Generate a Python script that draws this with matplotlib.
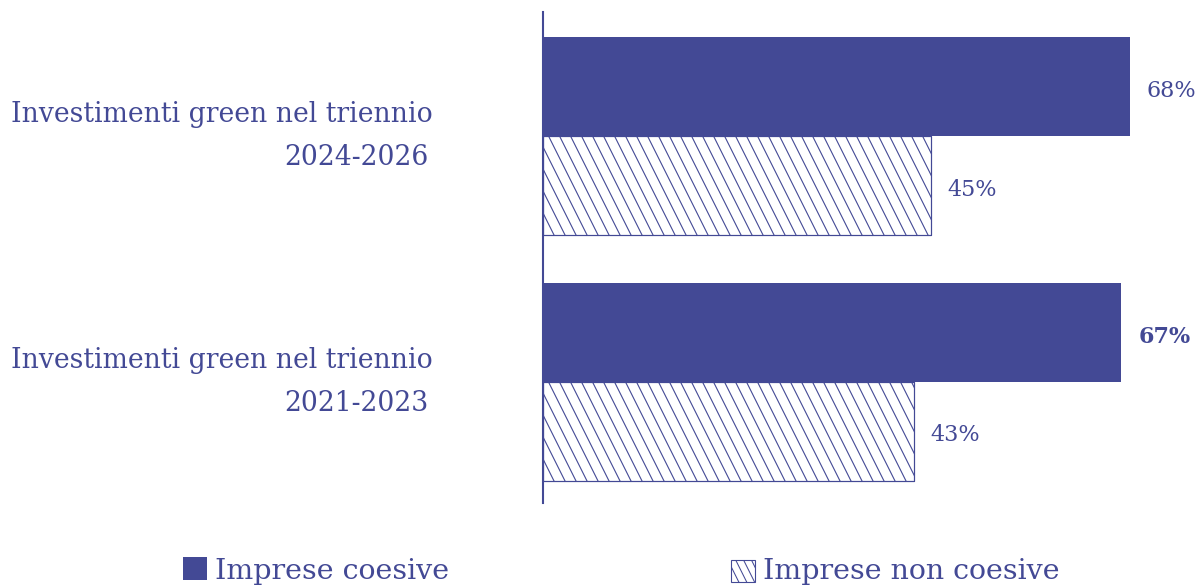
import matplotlib
matplotlib.use("Agg")
import matplotlib.pyplot as plt
from matplotlib.patches import Rectangle, Patch
from matplotlib.lines import Line2D
from matplotlib.legend_handler import HandlerBase

# ---- data -------------------------------------------------------------
categories = ["Investimenti green nel triennio\n2024-2026",
              "Investimenti green nel triennio\n2021-2023"]
coesive = [68, 67]          # Imprese coesive (%)
non_coesive = [45, 43]      # Imprese non coesive (%)
bold_labels = [False, True]  # emphasised value for the coesive series
series_names = ["Imprese coesive", "Imprese non coesive"]

# ---- style ------------------------------------------------------------
MAIN = "#434995"
FONT = "DejaVu Serif"
plt.rcParams["font.family"] = [FONT, "DejaVu Sans"]

W, H = 1199, 587
fig = plt.figure(figsize=(W / 100, H / 100), dpi=100)
ax = fig.add_axes([543 / W, 84 / H, 656 / W, 491 / H])

bar_h = 0.4024
group_y = [1, 0]  # first category on top

ax.set_xlim(0, 76)
ax.set_ylim(-0.492, 1.504)

solid_bars = ax.barh([g + bar_h / 2 for g in group_y], coesive, height=bar_h,
                     color=MAIN, edgecolor="none")
hatch_bars = ax.barh([g - bar_h / 2 for g in group_y], non_coesive, height=bar_h,
                     facecolor="white", edgecolor=MAIN, linewidth=0.8)

# pixel scale of the data coordinates (used for the steep diagonal hatch)
p0 = ax.transData.transform((0, 0))
p1 = ax.transData.transform((1, 1))
px_x = p1[0] - p0[0]
px_y = p1[1] - p0[1]

HATCH_STEP_PX = 11.0   # horizontal spacing of hatch strokes
HATCH_SLOPE = 2.0      # vertical drop per horizontal pixel

for rect in hatch_bars:
    x0, y0 = rect.get_x(), rect.get_y()
    w, h = rect.get_width(), rect.get_height()
    run = (h * px_y / HATCH_SLOPE) / px_x
    step = HATCH_STEP_PX / px_x
    x = -run
    while x < w + step:
        ln = Line2D([x0 + x, x0 + x + run], [y0 + h, y0], color=MAIN,
                    linewidth=0.8, zorder=rect.get_zorder() + 0.1)
        ax.add_line(ln)
        ln.set_clip_path(rect)
        x += step
    # outline on top of the strokes
    ax.add_patch(Rectangle((x0, y0), w, h, facecolor="none", edgecolor=MAIN,
                           linewidth=0.8, zorder=rect.get_zorder() + 0.2))

# ---- value labels -----------------------------------------------------
for rect, v, b in zip(solid_bars, coesive, bold_labels):
    ax.annotate(f"{v}%", (rect.get_width(), rect.get_y() + rect.get_height() / 2),
                xytext=(12.2, -2.9), textcoords="offset points",
                ha="left", va="center", fontsize=16, color=MAIN,
                fontweight="bold" if b else "normal", annotation_clip=False)
for rect, v in zip(hatch_bars, non_coesive):
    ax.annotate(f"{v}%", (rect.get_width(), rect.get_y() + rect.get_height() / 2),
                xytext=(11.5, -2.9), textcoords="offset points",
                ha="left", va="center", fontsize=16, color=MAIN,
                annotation_clip=False)

# ---- category labels --------------------------------------------------
line_off = 21.5 / px_y
for g, cat in zip(group_y, categories):
    first, second = cat.split("\n")
    ax.text(-(543 - 433) / px_x, g + line_off, first, ha="right", va="center",
            fontsize=19.2, color=MAIN, clip_on=False)
    ax.text(-(543 - 428) / px_x, g - line_off, second, ha="right", va="center",
            fontsize=19.2, color=MAIN, clip_on=False)

# ---- axes cosmetics ---------------------------------------------------
for s in ["top", "right", "bottom"]:
    ax.spines[s].set_visible(False)
ax.spines["left"].set_color(MAIN)
ax.spines["left"].set_linewidth(1.5)
ax.set_xticks([])
ax.set_yticks([])


# ---- legend -----------------------------------------------------------
class SteepHatchHandler(HandlerBase):
    def create_artists(self, legend, orig_handle, xdescent, ydescent,
                       width, height, fontsize, trans):
        dy = -0.12 * height
        box = Rectangle((-xdescent, -ydescent + dy), width, height,
                        facecolor="white", edgecolor=MAIN, linewidth=0.8,
                        transform=trans)
        arts = [box]
        run = height / HATCH_SLOPE
        step = width / 3.0
        x = -xdescent - run
        while x < -xdescent + width + step:
            ln = Line2D([x, x + run], [-ydescent + height + dy, -ydescent + dy],
                        color=MAIN, linewidth=0.75, transform=trans)
            ln.set_clip_path(box)
            arts.append(ln)
            x += step
        return arts


h_solid = Patch(facecolor=MAIN, edgecolor="none")
h_hatch = Patch(facecolor="white", edgecolor=MAIN)
fig.legend([h_solid, h_hatch], series_names, ncol=2, frameon=False,
           loc="center left", bbox_to_anchor=(183 / W, 16 / H),
           borderpad=0, borderaxespad=0, fontsize=20.5, labelcolor=MAIN,
           handlelength=0.83, handleheight=0.83, handletextpad=0.3,
           columnspacing=9.9,
           handler_map={h_hatch: SteepHatchHandler()})

fig.savefig("out.png", dpi=100)
